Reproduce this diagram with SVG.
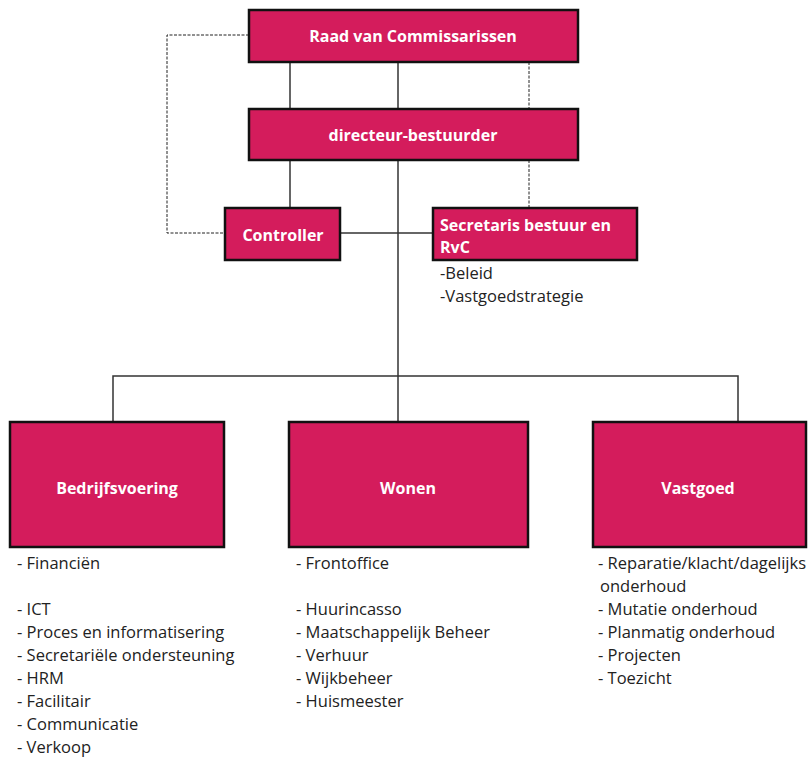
<svg xmlns="http://www.w3.org/2000/svg" width="812" height="757" viewBox="0 0 812 757">
<style>
.box{fill:#D41C5C;stroke:#111;stroke-width:2.5}
.t{font-family:"Open Sans","Liberation Sans",Arial,sans-serif;font-weight:bold;font-size:16px;fill:#fff}
.c{text-anchor:middle}
.l{font-family:"Open Sans","Liberation Sans",Arial,sans-serif;font-size:16.5px;fill:#222}
.ln{stroke:#333;stroke-width:1.5;fill:none}
.dl{stroke:#222;stroke-width:1;stroke-dasharray:3,1.5;fill:none}
</style>
<rect width="812" height="757" fill="#fff"/>
<g id="connectors">
<line class="ln" x1="290" y1="62" x2="290" y2="109"/>
<line class="ln" x1="398" y1="62" x2="398" y2="109"/>
<line class="dl" x1="529" y1="62" x2="529" y2="109"/>
<polyline class="dl" points="249,35 167,35 167,233 225,233"/>
<line class="ln" x1="290" y1="160" x2="290" y2="208"/>
<line class="dl" x1="529" y1="160" x2="529" y2="208"/>
<line class="ln" x1="398" y1="160" x2="398" y2="422"/>
<line class="ln" x1="340" y1="233" x2="433" y2="233"/>
<polyline class="ln" points="113,422 113,376 738,376 738,422"/>
</g>
<g id="raad">
<rect class="box" x="249" y="10" width="329" height="52"/>
<text class="t c" x="413" y="42">Raad van Commissarissen</text>
</g>
<g id="directeur">
<rect class="box" x="249" y="109" width="329" height="51"/>
<text class="t c" x="413" y="141">directeur-bestuurder</text>
</g>
<g id="controller">
<rect class="box" x="225" y="208" width="115" height="52"/>
<text class="t c" x="283" y="241">Controller</text>
</g>
<g id="secretaris">
<rect class="box" x="433" y="208" width="204" height="52"/>
<text class="t" x="440" y="231">Secretaris bestuur en</text>
<text class="t" x="440" y="253">RvC</text>
<text class="l" x="440" y="279">-Beleid</text>
<text class="l" x="440" y="302">-Vastgoedstrategie</text>
</g>
<g id="bedrijfsvoering">
<rect class="box" x="10" y="422" width="214" height="125"/>
<text class="t c" x="117" y="494">Bedrijfsvoering</text>
<text class="l" x="17" y="569">- Financiën</text>
<text class="l" x="17" y="615">- ICT</text>
<text class="l" x="17" y="638">- Proces en informatisering</text>
<text class="l" x="17" y="661">- Secretariële ondersteuning</text>
<text class="l" x="17" y="684">- HRM</text>
<text class="l" x="17" y="707">- Facilitair</text>
<text class="l" x="17" y="730">- Communicatie</text>
<text class="l" x="17" y="753">- Verkoop</text>
</g>
<g id="wonen">
<rect class="box" x="289" y="422" width="239" height="125"/>
<text class="t c" x="408" y="494">Wonen</text>
<text class="l" x="296" y="569">- Frontoffice</text>
<text class="l" x="296" y="615">- Huurincasso</text>
<text class="l" x="296" y="638">- Maatschappelijk Beheer</text>
<text class="l" x="296" y="661">- Verhuur</text>
<text class="l" x="296" y="684">- Wijkbeheer</text>
<text class="l" x="296" y="707">- Huismeester</text>
</g>
<g id="vastgoed">
<rect class="box" x="593" y="422" width="213" height="125"/>
<text class="t c" x="698" y="494">Vastgoed</text>
<text class="l" x="598" y="569">- Reparatie/klacht/dagelijks</text>
<text class="l" x="600" y="592">onderhoud</text>
<text class="l" x="598" y="615">- Mutatie onderhoud</text>
<text class="l" x="598" y="638">- Planmatig onderhoud</text>
<text class="l" x="598" y="661">- Projecten</text>
<text class="l" x="598" y="684">- Toezicht</text>
</g>
</svg>
